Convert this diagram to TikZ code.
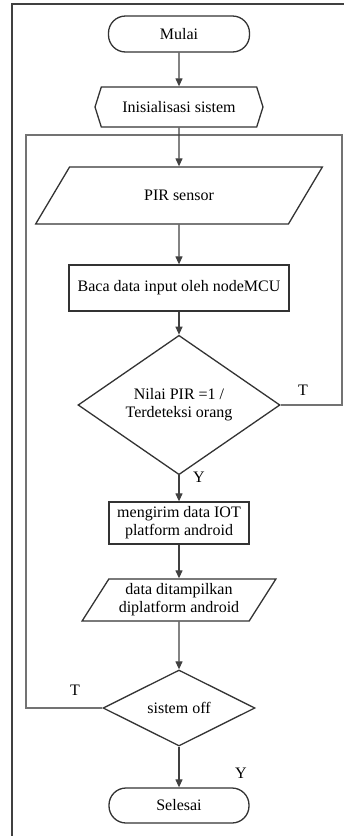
\documentclass[tikz,border=0pt]{standalone}
\usepackage{fontspec}
\setmainfont{Liberation Serif}
\usetikzlibrary{shapes.geometric,shapes.symbols,arrows.meta}

\tikzset{
  box/.style={draw=black!80, line width=1.3pt, fill=white, inner sep=2pt, align=center},
  term/.style={box, rounded corners=17pt},
  prep/.style={box, signal, signal to=west and east, signal pointer angle=145},
  io/.style={box, trapezium, trapezium stretches=true},
  decision/.style={box, diamond, inner sep=0pt},
  flow/.style={-{Triangle[length=8pt,width=7pt]}, line width=1.2pt, draw=black!75},
  loopline/.style={line width=1.1pt, draw=black!55},
}

\begin{document}
\begin{tikzpicture}[x=1pt, y=-1pt, font=\fontsize{16}{18}\selectfont]
      \useasboundingbox (0,0) rectangle (344,836);
      % outer frame
      \draw[line width=2pt, black!75] (12,836) -- (12,4) -- (344,4);

      \node[term, minimum width=141pt, minimum height=36pt] (mulai) at (179,34) {Mulai};
      \node[prep, minimum width=168pt, minimum height=40pt] (init) at (179,107) {Inisialisasi sistem};
      \node[io, trapezium left angle=52, trapezium right angle=128, minimum width=288pt, minimum height=57pt] (pir) at (179,195.5) {PIR sensor};
      \node[box, minimum width=220pt, minimum height=46pt] (baca) at (179,288) {Baca data input oleh nodeMCU};
      \node[decision, minimum width=202pt, minimum height=106pt] (cek) at (179,405) {Nilai PIR =1 /\\ Terdeteksi orang};
      \node[box, minimum width=140pt, minimum height=42pt] (kirim) at (179,523) {mengirim data IOT\\ platform android};
      \node[io, trapezium left angle=57, trapezium right angle=123, minimum width=194pt, minimum height=42pt] (tampil) at (179,600) {data ditampilkan\\ diplatform android};
      \node[decision, minimum width=152pt, minimum height=76pt] (off) at (179,708) {sistem off};
      \node[term, minimum width=140pt, minimum height=35pt] (selesai) at (179,805.5) {Selesai};

      \coordinate (cR) at (342,405);
      \coordinate (cTR) at (342,135);
      \coordinate (cTL) at (26,135);
      \coordinate (cL) at (26,708);

      \draw[loopline] (cek.east) -- (cR) -- (cTR) -- (cTL) -- (cL) -- (off.west);

      \draw[flow] (mulai) -- (init);
      \draw[flow] (init) -- (pir);
      \draw[flow] (pir) -- (baca);
      \draw[flow] (baca) -- (cek);
      \draw[flow] (cek) -- (kirim);
      \draw[flow] (kirim) -- (tampil);
      \draw[flow] (tampil) -- (off);
      \draw[flow] (off) -- (selesai);

      \node (t1) at (303,390) {T};
      \node (y1) at (199,477) {Y};
      \node (t2) at (75,690) {T};
      \node (y2) at (241,773) {Y};
    \end{tikzpicture}
\end{document}
